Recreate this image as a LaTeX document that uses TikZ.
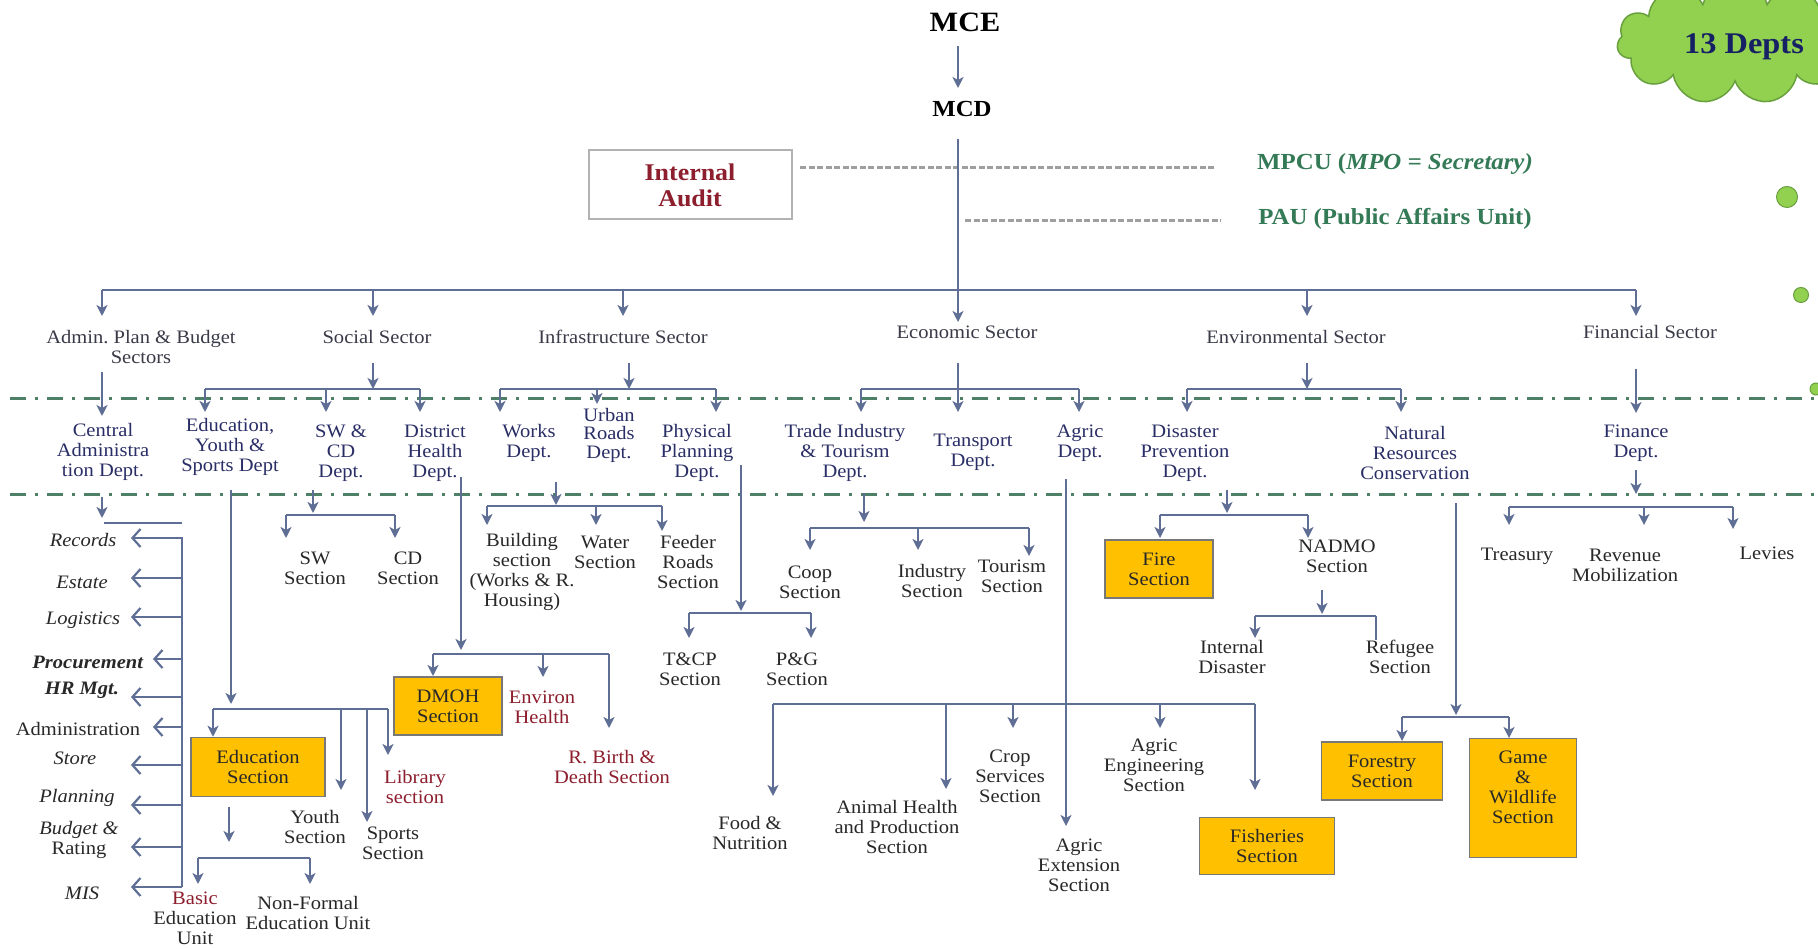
\documentclass[tikz,border=0pt]{standalone}
\usepackage{fontspec}
\setmainfont{Liberation Serif}[FakeStretch=1.08]
\usetikzlibrary{arrows.meta,shapes.symbols}
\definecolor{conn}{RGB}{94,110,148}
\definecolor{dashg}{RGB}{78,128,104}
\definecolor{navyt}{RGB}{42,46,102}
\definecolor{sectc}{RGB}{58,58,72}
\definecolor{sectxt}{RGB}{40,40,40}
\definecolor{redt}{RGB}{140,30,45}
\definecolor{greent}{RGB}{52,122,86}
\definecolor{goldf}{RGB}{255,192,0}
\definecolor{boxb}{RGB}{120,120,120}
\definecolor{cloudg}{RGB}{146,208,80}
\definecolor{cloudb}{RGB}{105,160,62}
\definecolor{deptblue}{RGB}{22,32,100}
\frenchspacing
\begin{document}
\begin{tikzpicture}[x=1pt,y=-1pt,
  every node/.style={inner sep=1pt,align=center,font=\fontsize{19}{20}\selectfont},
  cline/.style={draw=conn,line width=2.2pt},
  arr/.style={cline,-{Stealth[length=11pt,width=11pt,inset=3pt]}},
  larr/.style={cline,-{Straight Barb[length=8pt,width=18pt,line width=2.2pt]}},
  ddash/.style={draw=dashg,line width=3pt,dash pattern=on 16pt off 9pt on 3pt off 9pt},
  mdash/.style={draw=gray!75,line width=3pt,dash pattern=on 6pt off 2.5pt},
  sector/.style={text=sectc},
  dept/.style={text=navyt},
  secn/.style={text=sectxt},
  redsec/.style={text=redt},
  goldbox/.style={draw=boxb,fill=goldf,line width=1.5pt,inner sep=0pt,text=sectxt},
  gdot/.style={circle,fill=cloudg,draw=cloudb,line width=1pt,inner sep=0pt}
]
\useasboundingbox (0,0) rectangle (1818,949);
\fill[white] (0,0) rectangle (1818,949);

% cloud and dots
\node[cloud,cloud puffs=11,aspect=2,draw=cloudb,fill=cloudg,line width=1.5pt,minimum width=236pt,minimum height=124pt] (cloud) at (1735,42) {};
\node[anchor=west,text=deptblue,font=\bfseries\fontsize{30}{32}\selectfont] (depts) at (1683,47) {13 Depts};
\node[gdot,minimum size=21pt] (dot1) at (1787,197) {};
\node[gdot,minimum size=15pt] (dot2) at (1801,295) {};
\node[gdot,minimum size=12pt] (dot3) at (1816,389) {};

% top
\node[font=\bfseries\fontsize{28}{30}\selectfont] (mce) at (965,22) {MCE};
\node[font=\bfseries\fontsize{23}{25}\selectfont] (mcd) at (962,109) {MCD};
\draw[arr] (958,46) -- (958,88);
\node[draw=gray!60,line width=2pt,minimum width=203pt,minimum height=69pt,inner sep=0pt,text=redt,font=\bfseries\fontsize{24}{26}\selectfont] (audit) at (690,185) {Internal\\Audit};
\coordinate (mpcuL) at (800,168);
\coordinate (mpcuR) at (1214,168);
\coordinate (pauL) at (965,221);
\coordinate (pauR) at (1221,221);
\draw[mdash] (mpcuL) -- (mpcuR);
\draw[mdash] (pauL) -- (pauR);
\node[text=greent,font=\bfseries\fontsize{23}{25}\selectfont] (mpcu) at (1395,164) {MPCU (\textit{MPO = Secretary)}};
\node[text=greent,font=\bfseries\fontsize{23}{25}\selectfont] (pau) at (1395,219) {PAU (Public Affairs Unit)};

% main trunk and sector bar
\draw[arr] (958,139) -- (958,322);
\draw[cline] (102,290) -- (1636,290);
\foreach \x in {102,373,623,1307,1636} \draw[arr] (\x,290) -- (\x,316);

% sector labels
\node[sector] (admin) at (141,347) {Admin. Plan \& Budget\\Sectors};
\node[sector] (social) at (377,337) {Social Sector};
\node[sector] (infra) at (623,337) {Infrastructure Sector};
\node[sector] (econ) at (967,332) {Economic Sector};
\node[sector] (env) at (1296,337) {Environmental Sector};
\node[sector] (fin) at (1650,332) {Financial Sector};

% dash-dot separators
\draw[ddash] (10,399) -- (1818,399);
\draw[ddash] (10,494) -- (1818,494);

% sector -> departments
\draw[arr] (102,372) -- (102,416);
\draw[arr] (373,363) -- (373,389);
\draw[cline] (205,389) -- (420,389);
\foreach \x in {205,326,420} \draw[arr] (\x,389) -- (\x,412);
\draw[arr] (629,363) -- (629,389);
\draw[cline] (500,389) -- (716,389);
\draw[arr] (500,389) -- (500,412);
\draw[arr] (597,389) -- (597,404);
\draw[arr] (716,389) -- (716,412);
\draw[arr] (958,363) -- (958,412);
\draw[cline] (861,389) -- (1079,389);
\foreach \x in {861,1079} \draw[arr] (\x,389) -- (\x,412);
\draw[arr] (1307,363) -- (1307,389);
\draw[cline] (1187,389) -- (1401,389);
\foreach \x in {1187,1401} \draw[arr] (\x,389) -- (\x,412);
\draw[arr] (1636,369) -- (1636,413);

% department labels
\node[dept] (cad) at (103,452) {Central\\Administra\\tion Dept.};
\node[dept] (eys) at (230,447) {Education,\\Youth \&\\Sports Dept};
\node[dept] (swcd) at (341,453) {SW \&\\CD\\Dept.};
\node[dept] (dhd) at (435,453) {District\\Health\\Dept.};
\node[dept] (works) at (529,443) {Works\\Dept.};
\node[dept,font=\fontsize{19}{18.5}\selectfont] (urban) at (609,435) {Urban\\Roads\\Dept.};
\node[dept] (phys) at (697,453) {Physical\\Planning\\Dept.};
\node[dept] (trade) at (845,453) {Trade Industry\\\& Tourism\\Dept.};
\node[dept] (transp) at (973,452) {Transport\\Dept.};
\node[dept] (agric) at (1080,443) {Agric\\Dept.};
\node[dept] (disas) at (1185,453) {Disaster\\Prevention\\Dept.};
\node[dept] (natres) at (1415,453) {Natural\\Resources\\Conservation};
\node[dept] (finance) at (1636,443) {Finance\\Dept.};

% central administration units
\draw[arr] (102,497) -- (102,518);
\draw[cline] (104,523) -- (182,523);
\draw[cline] (182,537) -- (182,887);
\foreach \y in {538,578,617,697,765,805,847,887} \draw[larr] (182,\y) -- (131,\y);
\foreach \y in {659,727} \draw[larr] (182,\y) -- (153,\y);
\node[secn] (rec) at (83,540) {\textit{Records}};
\node[secn] (est) at (82,582) {\textit{Estate}};
\node[secn] (log) at (83,620) {\textit{Logistics}};
\node[secn] (proc) at (88,662) {\textbf{\textit{Procurement}}};
\node[secn] (hr) at (82,690) {\textbf{\textit{HR Mgt.}}};
\node[secn] (adm) at (78,729) {Administration};
\node[secn] (store) at (75,758) {\textit{Store}};
\node[secn] (plan) at (77,798) {\textit{Planning}};
\node[secn] (bud) at (79,840) {\textit{Budget \&}\\Rating};
\node[secn] (mis) at (82,893) {\textit{MIS}};

% education
\draw[arr] (231,490) -- (231,704);
\draw[cline] (213,709) -- (388,709);
\node[goldbox,minimum width=134pt,minimum height=59pt] (edusec) at (258,767) {Education\\Section};
\draw[arr] (213,709) -- (edusec.north -| 213,0);
\draw[arr] (341,709) -- (341,790);
\draw[arr] (367,709) -- (367,822);
\draw[arr] (388,709) -- (388,755);
\node[secn] (youth) at (315,827) {Youth\\Section};
\node[secn] (sports) at (393,843) {Sports\\Section};
\node[redsec] (lib) at (415,787) {Library\\section};
\draw[arr] (229,807) -- (229,842);
\draw[cline] (198,858) -- (310,858);
\draw[arr] (198,858) -- (198,884);
\draw[arr] (310,858) -- (310,884);
\node[secn] (basic) at (195,918) {{\color{redt}Basic}\\Education\\Unit};
\node[secn] (nonf) at (308,913) {Non-Formal\\Education Unit};

% SW & CD
\draw[arr] (313,490) -- (313,513);
\draw[cline] (286,515) -- (395,515);
\draw[arr] (286,515) -- (286,538);
\draw[arr] (395,515) -- (395,538);
\node[secn] (swsec) at (315,568) {SW\\Section};
\node[secn] (cdsec) at (408,568) {CD\\Section};

% district health
\draw[arr] (461,477) -- (461,650);
\draw[cline] (433,654) -- (609,654);
\node[goldbox,minimum width=108pt,minimum height=58pt] (dmoh) at (448,706) {DMOH\\Section};
\draw[arr] (433,654) -- (433,676);
\draw[arr] (543,654) -- (543,677);
\draw[arr] (609,654) -- (609,728);
\node[redsec] (envh) at (542,707) {Environ\\Health};
\node[redsec] (birth) at (612,767) {R. Birth \&\\Death Section};

% works
\draw[arr] (556,482) -- (556,505);
\draw[cline] (487,506) -- (662,506);
\draw[arr] (487,506) -- (487,525);
\draw[arr] (596,506) -- (596,525);
\draw[arr] (662,506) -- (662,531);
\node[secn] (build) at (522,572) {Building\\section\\(Works \& R.\\Housing)};
\node[secn] (water) at (605,552) {Water\\Section};
\node[secn] (feeder) at (688,562) {Feeder\\Roads\\Section};

% physical planning
\draw[arr] (741,465) -- (741,611);
\draw[cline] (689,613) -- (811,613);
\draw[arr] (689,613) -- (689,638);
\draw[arr] (811,613) -- (811,638);
\node[secn] (tcp) at (690,669) {T\&CP\\Section};
\node[secn] (pg) at (797,669) {P\&G\\Section};

% trade
\draw[arr] (864,493) -- (864,522);
\draw[cline] (810,528) -- (1029,528);
\draw[arr] (810,528) -- (810,550);
\draw[arr] (918,528) -- (918,550);
\draw[arr] (1029,528) -- (1029,556);
\node[secn] (coop) at (810,582) {Coop\\Section};
\node[secn] (indus) at (932,581) {Industry\\Section};
\node[secn] (tour) at (1012,576) {Tourism\\Section};

% agric
\draw[arr] (1066,479) -- (1066,826);
\draw[cline] (773,704) -- (1255,704);
\draw[arr] (773,704) -- (773,796);
\draw[arr] (946,704) -- (946,789);
\draw[arr] (1013,704) -- (1013,728);
\draw[arr] (1160,704) -- (1160,728);
\draw[arr] (1255,704) -- (1255,790);
\node[secn] (food) at (750,833) {Food \&\\Nutrition};
\node[secn] (animal) at (897,827) {Animal Health\\and Production\\Section};
\node[secn] (crop) at (1010,776) {Crop\\Services\\Section};
\node[secn] (aeng) at (1154,765) {Agric\\Engineering\\Section};
\node[secn] (aext) at (1079,865) {Agric\\Extension\\Section};
\node[goldbox,minimum width=135pt,minimum height=57pt] (fish) at (1267,846) {Fisheries\\Section};

% disaster
\draw[arr] (1227,490) -- (1227,513);
\draw[cline] (1160,515) -- (1308,515);
\node[goldbox,minimum width=108pt,minimum height=58pt] (fire) at (1159,569) {Fire\\Section};
\draw[arr] (1160,515) -- (1160,538);
\draw[arr] (1308,515) -- (1308,538);
\node[secn] (nadmo) at (1337,556) {NADMO\\Section};
\draw[arr] (1322,590) -- (1322,614);
\draw[cline] (1255,616) -- (1376,616);
\draw[arr] (1255,616) -- (1255,638);
\draw[cline] (1376,616) -- (1376,640);
\node[secn] (intd) at (1232,657) {Internal\\Disaster};
\node[secn] (refu) at (1400,657) {Refugee\\Section};

% natural resources
\draw[arr] (1456,503) -- (1456,715);
\draw[cline] (1402,717) -- (1509,717);
\node[goldbox,minimum width=121pt,minimum height=58pt] (forest) at (1382,771) {Forestry\\Section};
\node[goldbox,minimum width=107pt,minimum height=119pt] (gamebox) at (1523,798) {};
\node[text=sectxt] (game) at (1523,787) {Game\\\&\\Wildlife\\Section};
\draw[arr] (1402,717) -- (1402,741);
\draw[arr] (1509,717) -- (1509,738);

% finance
\draw[arr] (1636,470) -- (1636,494);
\draw[cline] (1509,507) -- (1733,507);
\draw[arr] (1509,507) -- (1509,525);
\draw[arr] (1644,507) -- (1644,525);
\draw[arr] (1733,507) -- (1733,529);
\node[secn] (treas) at (1517,556) {Treasury};
\node[secn] (rev) at (1625,565) {Revenue\\Mobilization};
\node[secn] (levies) at (1767,553) {Levies};
\end{tikzpicture}
\end{document}
